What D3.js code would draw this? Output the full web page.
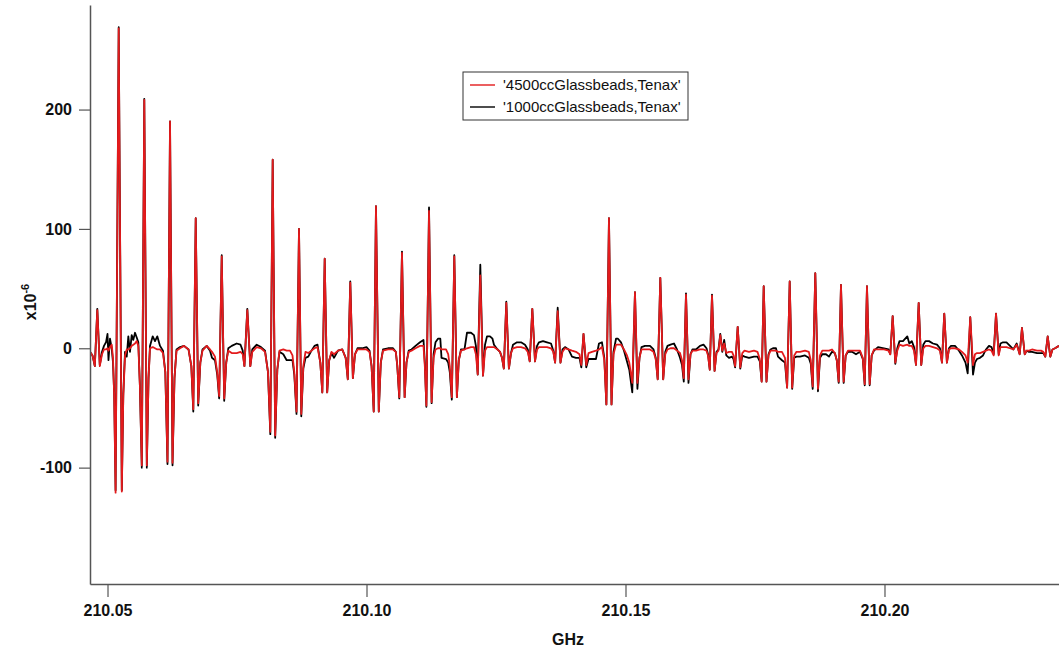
<!DOCTYPE html>
<html>
<head>
<meta charset="utf-8">
<script src="https://cdn.jsdelivr.net/npm/d3@7"></script>
<style>
  body { margin: 0; background: #fff; }
  svg { display: block; }
  text { font-family: "Liberation Sans", Arial, sans-serif; }
</style>
</head>
<body>
<svg id="chart" width="1059" height="653"></svg>
<script>
// Frequency of each sample, as an offset above 210 GHz in MHz
const offsetMHz = [
  46.62, 47.10, 47.55, 48.03, 48.51, 48.94, 49.32, 49.71, 50.00, 50.19, 50.48, 50.81, 51.06, 51.29, 51.56, 52.16, 52.76, 53.05, 53.38,
  53.71, 54.02, 54.34, 54.67, 54.98, 55.31, 55.64, 55.95, 56.24, 56.62, 57.10, 57.59, 57.92, 58.20,
  58.73, 59.17, 59.61, 60.14, 60.71, 61.16, 61.58, 62.07, 62.55, 62.93, 63.32,
  64.00, 64.77, 65.64, 66.18, 66.56, 67.03, 67.51, 67.92, 68.34,
  69.15, 69.79, 70.17, 70.75, 71.18, 71.56, 72.05, 72.53, 72.92, 73.32,
  73.98, 74.94, 75.68, 76.10, 76.43, 76.99, 77.57, 77.95,
  78.80, 79.63, 80.41, 80.98, 81.43, 81.89, 82.37, 82.78, 83.20,
  83.94, 84.59, 85.23, 85.71, 86.06, 86.49, 86.97, 87.41, 87.80, 88.22,
  88.76, 89.38, 89.96, 90.54, 91.08, 91.47, 91.93, 92.41, 92.80, 93.24,
  93.73, 94.50, 95.33, 95.98, 96.39, 96.87, 97.37, 97.78, 98.26,
  99.13, 100.00, 100.58, 100.98, 101.39, 101.83, 102.37, 102.76, 103.19,
  104.15, 105.12, 105.66, 105.93, 106.33, 106.85, 107.36, 107.72, 108.15,
  108.69, 109.46, 110.33, 111.00, 111.26, 111.56, 112.07, 112.57, 112.95, 113.32,
  113.80, 114.25, 114.48, 115.35, 115.77, 116.08, 116.47, 116.95, 117.45, 117.82, 118.24,
  118.92, 119.40, 120.17, 120.75, 121.12, 121.47, 121.97, 122.49, 122.88, 123.26,
  123.84, 124.32, 124.61, 125.29, 125.77, 126.16, 126.51, 126.99, 127.49, 127.90, 128.28,
  129.05, 129.83, 130.60, 131.14, 131.51, 132.01, 132.53, 132.92, 133.30,
  134.07, 134.85, 135.62, 136.06, 136.41, 136.91, 137.45, 137.84, 138.32,
  139.00, 139.67, 140.44, 141.12, 141.47, 141.89, 142.43, 142.86,
  143.53, 144.30, 144.88, 145.46, 145.91, 146.31, 146.81, 147.30, 147.68, 148.17,
  148.55, 149.13, 149.71, 150.29, 150.73, 151.31, 151.83, 152.30, 152.70, 153.09,
  153.76, 154.73, 155.41, 155.83, 156.22, 156.72, 157.28, 157.68, 158.11,
  158.69, 159.36, 159.94, 160.52, 160.91, 161.25, 161.68, 162.16, 162.55, 162.93,
  163.61, 164.38, 165.06, 165.64, 165.93, 166.27, 166.70, 167.20, 167.57, 167.95,
  168.30, 168.69, 169.05, 169.46, 169.98, 170.56, 170.85, 171.16, 171.66, 172.16, 172.55, 172.97,
  173.84, 174.81, 175.48, 175.93, 176.29, 176.68, 177.22, 177.61, 177.99,
  178.47, 179.05, 179.44, 180.21, 180.79, 181.20, 181.70, 182.18, 182.57, 183.01,
  183.69, 184.65, 185.39, 185.77, 186.14, 186.64, 187.16, 187.55, 187.99,
  188.71, 189.29, 189.87, 190.41, 190.79, 191.16, 191.60, 192.12, 192.51, 192.95,
  193.73, 194.50, 195.27, 195.81, 196.18, 196.62, 197.14, 197.53, 197.97,
  198.75, 199.90, 200.77, 201.12, 201.58, 202.09, 202.47, 202.90,
  203.57, 204.40, 204.79, 205.27, 205.70, 206.08, 206.60, 207.10, 207.49, 207.91,
  208.59, 209.36, 210.14, 210.71, 211.10, 211.54, 212.05, 212.45, 212.84,
  213.61, 214.38, 214.96, 215.64, 216.06, 216.56, 217.09, 217.47, 217.86,
  218.44, 219.02, 219.59, 220.17, 220.66, 221.08, 221.53, 222.05, 222.39, 222.88,
  223.55, 224.23, 224.87, 225.52, 226.10, 226.54, 227.07, 227.45, 227.90,
  228.48, 229.44, 230.21, 230.66, 231.04, 231.51, 232.01, 232.43, 232.92, 233.69
];

// Signal (x10^-6) for the 4500 cc glass beads sample
const tenax4500 = [
  -3, -6, -15, 32, -15, -5, -1, -1, 0, -2, 1, 3, -8, -40, -121, 268, -120, -40, -6,
  -1, -1, 0, 2, 3, 4, 6, 2, -30, -98, 208, -98, -25, 0,
  1, 0, -1, -1, -4, -20, -95, 190, -96, -25, -2,
  0, 2, -1, -15, -51, 109, -46, -12, -2,
  2, -1, -3, -7, -20, -40, 77, -42, -12, -2,
  -4, -4, -3, -5, -15, 32, -15, -3,
  1, 0, -3, -20, -70, 158, -73, -18, -2,
  -1, -2, -2, -6, -20, -53, 100, -55, -15, -3,
  -4, -2, 0, 1, -12, -37, 75, -37, -10, -3,
  -5, -2, -1, -8, -26, 55, -25, -5, -1,
  -1, -1, -3, -15, -53, 119, -53, -12, -2,
  -1, -1, -3, -14, -41, 80, -41, -12, -3,
  -2, 0, 2, 2, -15, -48, 115, -45, -8, -1,
  0, 0, -1, -1, -5, -15, -41, 77, -41, -10, -2,
  -1, 0, 1, 1, -5, -22, 61, -23, -2, 1,
  1, 1, 1, -1, -3, -8, -17, 38, -17, -4, 0,
  1, 1, 0, -3, -11, 33, -11, -1, 1,
  1, 1, 0, -3, -12, 31, -12, -3, 0,
  -1, -2, -3, -5, -14, 12, -14, -4,
  -3, -2, -1, 1, -10, -47, 109, -47, -5, 3,
  3, 3, -1, -6, -12, -29, 47, -29, -8, -1,
  -1, -1, -3, -9, -26, 59, -26, -5, -1,
  0, 0, -2, -4, -10, -25, 45, -26, -5, -2,
  -2, -1, -1, -2, -6, -18, 44, -19, -4, -2,
  11, -2, 4, -4, -3, -3, -6, -15, 18, -16, -4, -2,
  -3, -2, -3, -9, -28, 52, -28, -6, -2,
  -2, -2, -3, -3, -8, -33, 56, -33, -6, -3,
  -3, -2, -3, -10, -32, 63, -34, -6, -2,
  -2, -2, -1, -4, -10, -28, 53, -28, -6, -2,
  -2, -2, -2, -8, -30, 52, -30, -6, -1,
  -1, -1, -2, -5, 27, -12, -2, 3,
  2, 3, 2, 2, -2, -14, 38, -14, 0, 2,
  2, 1, 0, -2, -12, 29, -12, -1, 0,
  0, -1, -3, -6, -12, 26, -14, -5, -4,
  -4, -3, -2, -1, -2, -6, 29, -6, 1, 1,
  1, 0, -1, 3, -5, 17, -5, -2, -2,
  -1, -2, -2, -3, -7, 10, -7, -1, 0, 2
];

// Signal (x10^-6) for the 1000 cc glass beads sample
const tenax1000 = [
  -3, -6, -15, 33, -14, -3, 2, 5, 12, -10, 8, 0, -12, -38, -119, 269, -119, -38, -3,
  -7, 10, -3, 11, 7, 13, 9, 5, -30, -100, 209, -100, -25, 2,
  10, 6, 10, 2, -2, -20, -97, 190, -98, -25, -1,
  1, 2, -1, -15, -53, 109, -48, -12, -1,
  2, -2, -8, -10, -22, -42, 78, -44, -12, 0,
  2, 4, 3, -2, -15, 33, -15, -1,
  3, 1, -2, -20, -72, 158, -75, -18, -3,
  -5, -10, -10, -10, -22, -55, 100, -57, -17, -8,
  -7, -2, 2, 3, -12, -37, 75, -37, -10, -4,
  -8, -2, -1, -8, -26, 56, -25, -5, 0,
  0, 1, -2, -15, -53, 119, -53, -12, -1,
  0, 0, -3, -14, -42, 81, -41, -12, -2,
  -1, 2, 5, 7, -12, -49, 118, -46, -5, 5,
  8, 8, -8, -9, -12, -20, -43, 78, -41, -10, -1,
  -1, 13, 13, 11, 2, -22, 70, -23, 3, 10,
  10, 8, 3, -1, -3, -8, -17, 39, -17, -4, 3,
  5, 5, 3, -1, -11, 33, -11, 2, 5,
  6, 5, 4, -2, -12, 34, -12, -1, 1,
  -1, -7, -8, -8, -16, 12, -16, -9,
  -9, -9, 4, 5, -8, -47, 109, -47, -3, 8,
  8, 5, -2, -11, -18, -37, 47, -34, -8, 1,
  2, 2, -1, -8, -26, 59, -26, -3, 2,
  3, 4, -1, -8, -14, -28, 46, -29, -5, -1,
  -1, 2, 3, 0, -5, -18, 45, -19, -3, -1,
  12, -3, 7, -6, -8, -7, -9, -16, 18, -17, -6, -7,
  -8, -7, -7, -11, -28, 52, -28, -5, -1,
  0, 0, -7, -10, -12, -33, 56, -34, -8, -7,
  -7, -6, -8, -13, -34, 63, -36, -8, -5,
  -5, -7, -3, -4, -10, -29, 53, -29, -6, -3,
  -3, -5, -3, -9, -31, 52, -31, -6, -2,
  1, 0, -1, -5, 27, -13, 0, 6,
  6, 10, 4, 6, 1, -14, 38, -14, 3, 6,
  6, 4, 3, 0, -12, 29, -12, 0, 2,
  2, -2, -6, -12, -21, 26, -22, -12, -9,
  -8, -6, -1, 2, 1, -5, 29, -5, 4, 5,
  5, 2, -1, 4, -5, 17, -5, -2, -3,
  -3, -4, -4, -4, -7, 10, -7, -1, 0, 2
];

const seriesNames = ["'4500ccGlassbeads,Tenax'", "'1000ccGlassbeads,Tenax'"];
const seriesColors = ["#e31a1c", "#000000"];
const xTicks = [210.05, 210.10, 210.15, 210.20];
const yTicks = [-100, 0, 100, 200];
const yDomain = [-197.5, 287.6];
const baseGHz = 210;

const freqGHz = offsetMHz.map(m => baseGHz + m / 1000);

const margin = { left: 90, right: 0, top: 5, bottom: 69 };
const width = 1059, height = 653;
const plotW = width - margin.left - margin.right;
const plotH = height - margin.top - margin.bottom;

const svg = d3.select("#chart");

const x = d3.scaleLinear()
  .domain([freqGHz[0], freqGHz[freqGHz.length - 1]])
  .range([margin.left, margin.left + plotW]);
const y = d3.scaleLinear()
  .domain(yDomain)
  .range([margin.top + plotH, margin.top]);

svg.append("defs").append("clipPath").attr("id", "plot-clip")
  .append("rect")
  .attr("x", margin.left).attr("y", margin.top)
  .attr("width", plotW).attr("height", plotH);

// Traces: the 1000 cc sample underneath, 4500 cc on top
const traces = [
  { name: seriesNames[1], color: seriesColors[1], values: tenax1000 },
  { name: seriesNames[0], color: seriesColors[0], values: tenax4500 }
];

const line = d3.line()
  .x((d, i) => x(freqGHz[i]))
  .y(d => y(d));

svg.append("g").attr("clip-path", "url(#plot-clip)")
  .selectAll("path")
  .data(traces)
  .join("path")
  .attr("d", d => line(d.values))
  .attr("fill", "none")
  .attr("stroke", d => d.color)
  .attr("stroke-width", 1.8)
  .attr("stroke-linejoin", "round");

// Axes (plain hyphen for negative labels)
const axisColor = "#555";
const yAxis = svg.append("g")
  .attr("transform", `translate(${margin.left},0)`)
  .call(d3.axisLeft(y).tickValues(yTicks).tickFormat(d => String(d))
    .tickSize(11).tickSizeOuter(0).tickPadding(7));
const xAxis = svg.append("g")
  .attr("transform", `translate(0,${margin.top + plotH})`)
  .call(d3.axisBottom(x).tickValues(xTicks).tickFormat(d3.format(".2f"))
    .tickSize(13).tickSizeOuter(0).tickPadding(8));

[yAxis, xAxis].forEach(g => {
  g.select(".domain").attr("stroke", axisColor).attr("stroke-width", 1.5);
  g.selectAll(".tick line").attr("stroke", axisColor).attr("stroke-width", 1.2);
  g.selectAll(".tick text")
    .attr("fill", "#111")
    .style("font-size", "16px")
    .style("font-weight", "bold")
    .style("font-family", "'Liberation Sans', Arial, sans-serif");
});

// Axis titles
svg.append("text")
  .attr("x", 568).attr("y", 645)
  .attr("text-anchor", "middle")
  .style("font-size", "16px").style("font-weight", "bold")
  .attr("fill", "#111")
  .text("GHz");

const yTitle = svg.append("text")
  .attr("transform", "translate(36,302) rotate(-90)")
  .attr("text-anchor", "middle")
  .style("font-size", "16px").style("font-weight", "bold")
  .attr("fill", "#111");
yTitle.append("tspan").text("x10");
yTitle.append("tspan").attr("dy", -7).style("font-size", "11px").text("-6");

// Legend
const legend = svg.append("g").attr("transform", "translate(463,72)");
legend.append("rect")
  .attr("width", 225).attr("height", 48)
  .attr("fill", "#fff").attr("stroke", "#333").attr("stroke-width", 1);
const legendRows = legend.selectAll("g.row")
  .data(seriesNames.map((n, i) => ({ name: n, color: seriesColors[i] })))
  .join("g").attr("class", "row")
  .attr("transform", (d, i) => `translate(0,${13 + i * 22})`);
legendRows.append("line")
  .attr("x1", 7).attr("x2", 32)
  .attr("stroke", d => d.color).attr("stroke-width", 1.4);
legendRows.append("text")
  .attr("x", 40).attr("y", 5)
  .style("font-size", "15px")
  .attr("fill", "#111")
  .text(d => d.name);
</script>
</body>
</html>
